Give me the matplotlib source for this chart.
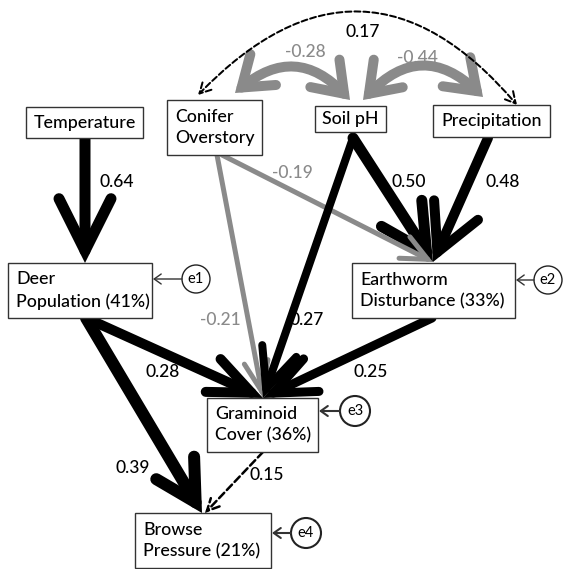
import matplotlib
matplotlib.use("Agg")
import matplotlib.pyplot as plt
from matplotlib.patches import FancyArrowPatch, Rectangle, Circle, ArrowStyle

# ---- data ----
node_names = ["Temperature", "Conifer\nOverstory", "Soil pH", "Precipitation",
              "Deer\nPopulation (41%)", "Earthworm\nDisturbance (33%)",
              "Graminoid\nCover (36%)", "Browse\nPressure (21%)"]
path_src = ["Temperature", "Soil pH", "Precipitation", "Conifer\nOverstory",
            "Conifer\nOverstory", "Soil pH", "Deer\nPopulation (41%)",
            "Earthworm\nDisturbance (33%)", "Deer\nPopulation (41%)",
            "Graminoid\nCover (36%)"]
path_dst = ["Deer\nPopulation (41%)", "Earthworm\nDisturbance (33%)",
            "Earthworm\nDisturbance (33%)", "Earthworm\nDisturbance (33%)",
            "Graminoid\nCover (36%)", "Graminoid\nCover (36%)",
            "Graminoid\nCover (36%)", "Graminoid\nCover (36%)",
            "Browse\nPressure (21%)", "Browse\nPressure (21%)"]
path_coef = [0.64, 0.50, 0.48, -0.19, -0.21, 0.27, 0.28, 0.25, 0.39, 0.15]
path_signif = [True, True, True, True, True, True, True, True, True, False]

cov_a = ["Conifer\nOverstory", "Soil pH", "Conifer\nOverstory"]
cov_b = ["Soil pH", "Precipitation", "Precipitation"]
cov_coef = [-0.28, -0.44, 0.17]
cov_signif = [True, True, False]

error_names = ["e1", "e2", "e3", "e4"]
error_nodes = ["Deer\nPopulation (41%)", "Earthworm\nDisturbance (33%)",
               "Graminoid\nCover (36%)", "Browse\nPressure (21%)"]

# ---- layout (pixel coords, y down) ----
W, H, DPI = 564, 569, 100
boxes = {  # x0, y0, x1, y1, centered text
    "Temperature": (26, 107, 143, 138, True),
    "Conifer\nOverstory": (167, 100, 262, 155, False),
    "Soil pH": (315, 106, 386, 132, True),
    "Precipitation": (433, 105, 550, 137, True),
    "Deer\nPopulation (41%)": (8, 263, 152, 318, False),
    "Earthworm\nDisturbance (33%)": (352, 263, 515, 318, False),
    "Graminoid\nCover (36%)": (207, 398, 318, 452, False),
    "Browse\nPressure (21%)": (135, 513, 271, 568, False),
}
# start, end, line width px, head length px, head half width px, label pos
path_geom = [
    ((85, 138), (85, 263), 11, 52, 26, (117, 182)),
    ((353, 138), (433, 262), 11, 46, 24, (409, 182)),
    ((488, 138), (433, 262), 10, 46, 24, (503, 182)),
    ((222, 155), (433, 262), 5, 26, 12, (292, 173)),
    ((217, 155), (263, 398), 5, 30, 12, (220, 320)),
    ((353, 138), (263, 398), 8, 40, 18, (307, 320)),
    ((86, 318), (263, 398), 10, 42, 18, (163, 372)),
    ((432, 318), (263, 398), 9, 42, 18, (371, 372)),
    ((86, 318), (202, 513), 12, 40, 22, (133, 468)),
    ((263, 452), (205, 513), 2.5, 12, 6, (267, 475)),
]
cov_geom = [
    ((235, 93), (350, 100), -0.47, 10, 28, 20, (305, 52)),
    ((363, 100), (483, 97), -0.5, 10, 28, 20, (417, 58)),
    ((198, 95), (517, 105), -0.55, 2, 11, 6, (363, 32)),
]
error_geom = [((196, 279), 14, 1.0), ((548, 280), 14, 1.0),
              ((355, 411), 15, 1.5), ((306, 533), 15, 1.5)]

BLACK = "#000000"
GREY = "#8a8a8a"
FONT = "Lato"


def pt(v):
    return v * 72.0 / DPI


fig = plt.figure(figsize=(W / DPI, H / DPI), dpi=DPI)
ax = fig.add_axes([0, 0, 1, 1])
ax.set_xlim(0, W)
ax.set_ylim(H, 0)
ax.axis("off")

# paths
for i in range(len(path_coef)):
    a, b, lw, hl, hw, lab = path_geom[i]
    col = BLACK if path_coef[i] > 0 else GREY
    style = ArrowStyle("->", head_length=pt(hl), head_width=pt(hw))
    arr = FancyArrowPatch(a, b, arrowstyle=style, mutation_scale=1,
                          lw=pt(lw), color=col, shrinkA=0, shrinkB=0,
                          linestyle="-" if path_signif[i] else (0, (3, 1.5)),
                          capstyle="round", joinstyle="miter", zorder=3)
    ax.add_patch(arr)
    ax.text(lab[0], lab[1], f"{path_coef[i]:.2f}", color=col, fontsize=12.5,
            family=FONT, weight="medium", ha="center", va="center", zorder=5)

# covariances
for i in range(len(cov_coef)):
    a, b, rad, lw, hl, hw, lab = cov_geom[i]
    col = BLACK if cov_coef[i] > 0 else GREY
    style = ArrowStyle("<->", head_length=pt(hl), head_width=pt(hw))
    arr = FancyArrowPatch(a, b, arrowstyle=style, mutation_scale=1,
                          connectionstyle=f"arc3,rad={rad}",
                          lw=pt(lw), color=col, shrinkA=0, shrinkB=0,
                          linestyle="-" if cov_signif[i] else (0, (3, 1.5)),
                          capstyle="round", joinstyle="miter", zorder=3)
    ax.add_patch(arr)
    ax.text(lab[0], lab[1], f"{cov_coef[i]:.2f}", color=col, fontsize=12.5,
            family=FONT, weight="medium", ha="center", va="center", zorder=5)

# boxes
for name in node_names:
    x0, y0, x1, y1, centered = boxes[name]
    ax.add_patch(Rectangle((x0, y0), x1 - x0, y1 - y0, fc="white",
                           ec="#333333", lw=1.0, zorder=4))
    if centered:
        ax.text((x0 + x1) / 2, (y0 + y1) / 2, name, fontsize=12.8, family=FONT,
                weight="medium", ha="center", va="center", zorder=5,
                color="#000000")
    else:
        ax.text(x0 + 8, (y0 + y1) / 2, name, fontsize=12.8, family=FONT,
                weight="medium", ha="left", va="center", zorder=5,
                color="#000000", linespacing=1.4)

# error terms
for i, e in enumerate(error_names):
    (cx, cy), r, elw = error_geom[i]
    x1 = boxes[error_nodes[i]][2]
    ax.add_patch(Circle((cx, cy), r, fc="white", ec="#222222", lw=elw, zorder=4))
    ax.text(cx, cy, e, fontsize=10.5, family=FONT, ha="center", va="center",
            zorder=5)
    ax.add_patch(FancyArrowPatch((cx - r, cy), (x1 + 1, cy),
                                 arrowstyle=ArrowStyle("->", head_length=pt(7),
                                                       head_width=pt(5)),
                                 mutation_scale=1, lw=elw, color="#333333",
                                 shrinkA=0, shrinkB=0, zorder=4))

fig.savefig("out.png", dpi=DPI)
